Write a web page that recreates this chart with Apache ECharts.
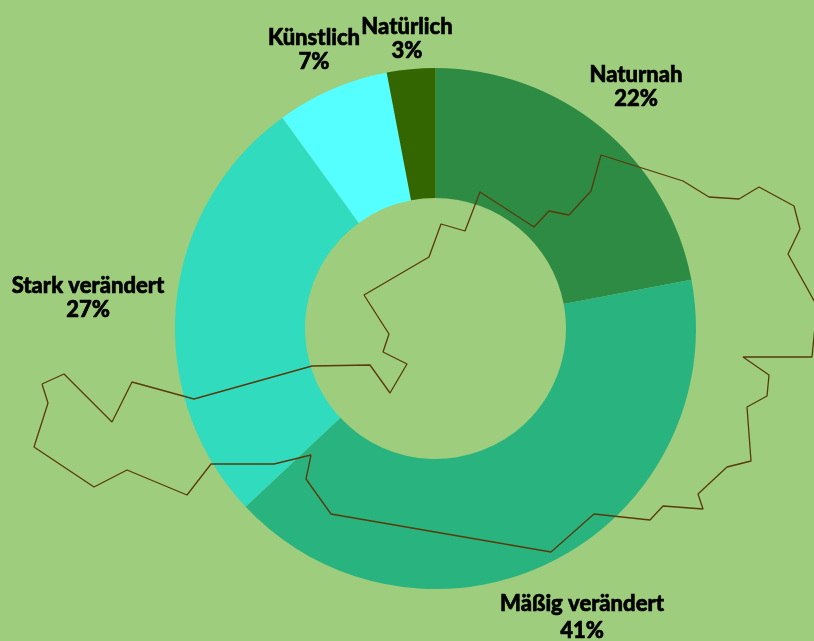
<!DOCTYPE html>
<html>
<head>
<meta charset="utf-8">
<style>html,body{margin:0;padding:0;background:#9dcd7d}#c{width:814px;height:641px}</style>
<script src="https://cdn.jsdelivr.net/npm/echarts@6/dist/echarts.min.js"></script>
</head>
<body>
<div id="c"></div>
<script>
const categories = ['Naturnah', 'Mäßig verändert', 'Stark verändert', 'Künstlich', 'Natürlich'];
const shares = [22, 41, 27, 7, 3];
const colors = ['#2e8b44', '#29b37f', '#30dbbe', '#55ffff', '#336600'];
const outlineX = [42,64,112,132,194,312,370,390,407,383,389,364,429,441,465,480,534,549,569,591,601,683,709,739,759,794,800,788,817,812,743,769,767,747,751,727,698,703,663,650,594,551,331,306,311,274,211,187,127,94,34,48,42];
const outlineY = [384,374,422,382,399,366,365,393,364,352,334,295,257,224,231,192,227,211,215,191,155,181,197,199,187,206,229,254,306,357,357,375,396,407,461,467,494,509,506,520,514,552,514,479,455,464,464,495,470,487,447,403,384];

const labelAnchors = [[636,87],[582,617.5],[88,297.5],[314,50],[407,39]];
const labelLeading = [24,27,24,24,24];

const chart = echarts.init(document.getElementById('c'), null, {renderer:'canvas'});
chart.setOption({
  animation: false,
  backgroundColor: '#9dcd7d',
  grid: {left:0, right:0, top:0, bottom:0},
  xAxis: {type:'value', min:0, max:814, show:false},
  yAxis: {type:'value', min:0, max:641, inverse:true, show:false},
  series: [
    {
      type:'pie',
      center:[435.5,328.5],
      radius:[130.5,260.5],
      startAngle:90,
      clockwise:true,
      silent:true,
      z:1,
      data: categories.map((name,i)=>({
        name, value:shares[i],
        itemStyle:{color:colors[i]},
        label:{lineHeight:labelLeading[i]}
      })),
      label:{
        show:true,
        position:'outside',
        formatter:p=>p.name+'\n'+p.value+'%',
        fontFamily:'Lato',
        fontWeight:900,
        fontSize:22,
        color:'#000',
        textBorderColor:'#000',
        textBorderWidth:0.6,
        align:'center',
        overflow:'none',
        width:220
      },
      labelLine:{show:false},
      labelLayout:p=>({
        x:labelAnchors[p.dataIndex][0],
        y:labelAnchors[p.dataIndex][1],
        align:'center',
        verticalAlign:'middle'
      })
    },
    {
      type:'line',
      z:5,
      silent:true,
      symbol:'none',
      data: outlineX.map((x,i)=>[x,outlineY[i]]),
      lineStyle:{color:'#5a3a0c', width:1.3}
    }
  ]
});
</script>
</body>
</html>
